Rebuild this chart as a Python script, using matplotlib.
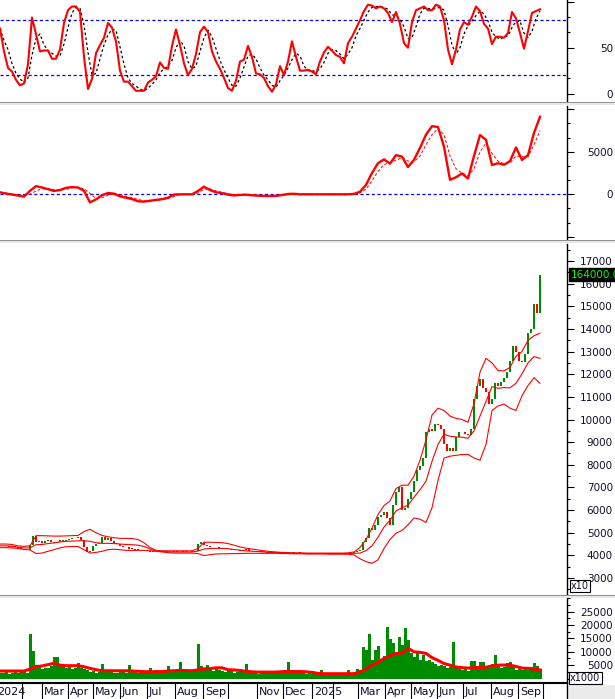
import numpy as np
import matplotlib
matplotlib.use('Agg')
import matplotlib.pyplot as plt
import matplotlib.transforms as mtransforms
from matplotlib.ticker import FixedLocator, MultipleLocator
from matplotlib.patches import Rectangle

plt.rcParams['font.family'] = ['DejaVu Sans']

# --- data ---
# candles / volume: one value every 3 px column
close = [4400, 4420, 4400, 4380, 4400, 4350, 4300, 4280, 4250, 4230,
         4450, 4850, 4600, 4650, 4550, 4620, 4680, 4600, 4550, 4600,
         4680, 4650, 4700, 4720, 4780, 4750, 4800, 4700, 4350, 4150,
         4200, 4400, 4500, 4550, 4800, 4700, 4780, 4650, 4520, 4500,
         4400, 4380, 4350, 4300, 4280, 4250, 4250, 4200, 4180, 4200,
         4150, 4180, 4200, 4150, 4180, 4200, 4180, 4200, 4150, 4180,
         4200, 4150, 4180, 4200, 4150, 4200, 4500, 4600, 4450, 4400,
         4380, 4350, 4380, 4300, 4320, 4280, 4300, 4250, 4220, 4250,
         4200, 4220, 4300, 4200, 4180, 4200, 4150, 4180, 4150, 4120,
         4150, 4130, 4150, 4100, 4130, 4150, 4120, 4100, 4130, 4150,
         4120, 4100, 4120, 4100, 4100, 4120, 4100, 4080, 4100, 4100,
         4080, 4100, 4080, 4100, 4100, 4080, 4100, 4120, 4150, 4200,
         4250, 4600, 4760, 5190, 5100, 5350, 5700, 5780, 5900, 5630,
         5340, 6220, 6800, 7030, 6000, 6100, 6510, 6800, 7300, 7750,
         7950, 8300, 9440, 9590, 9500, 9780, 9740, 9590, 8900, 8600,
         8750, 8630, 9220, 9440, 9440, 9350, 9300, 9600, 10900, 11500,
         11800, 11400, 11200, 10700, 10900, 11600, 11500, 11640, 11850, 12100,
         12600, 13260, 12970, 12600, 12530, 12900, 13800, 14000, 15100, 14700,
         16400]

volume = [2200, 2000, 2400, 1800, 2100, 2600, 1900, 2300, 2500, 2200,
          16700, 10300, 5000, 4200, 3500, 4000, 3800, 4500, 7900, 7900,
          5000, 4200, 3800, 4500, 3500, 3800, 5800, 4000, 3500, 3000,
          2500, 2800, 2200, 2600, 5600, 2400, 3000, 3200, 2200, 2000,
          2400, 2600, 2200, 5200, 2300, 2500, 2000, 2200, 2400, 2000,
          3900, 2600, 3000, 2200, 2400, 2800, 4800, 2500, 2900, 3500,
          6000, 2600, 2800, 2300, 3200, 2800, 12900, 4500, 3500, 5200,
          3000, 2800, 3900, 3200, 2700, 2300, 3500, 2800, 2200, 2600,
          3200, 2400, 5600, 2200, 2000, 2500, 1800, 2200, 2600, 2000,
          2100, 2800, 1900, 2300, 2100, 3200, 6000, 2500, 2100, 2200,
          2000, 2400, 1800, 2100, 1700, 1900, 2200, 3000, 1800, 1600,
          2000, 1500, 1800, 1700, 1600, 2000, 3200, 1800, 2400, 3600,
          3300, 11900, 10600, 16700, 7000, 10600, 12200, 7000, 8500, 19200,
          14700, 13400, 9000, 15600, 12500, 18800, 14300, 9400, 7900, 9400,
          7000, 8800, 6500, 7000, 6300, 5500, 4800, 5100, 4500, 3800,
          4200, 13600, 4400, 3600, 3000, 3400, 2800, 6700, 6700, 4500,
          6000, 6300, 4200, 3800, 5500, 8800, 4500, 3800, 4200, 5700,
          6300, 4800, 3300, 3600, 3000, 3500, 3200, 4200, 5700, 4800,
          3400]

# bollinger lines + volume average: one value every 6 px
bb_upper = [4500, 4500, 4480, 4420, 4400, 4420, 4870, 4870, 4860, 4850,
            4850, 4860, 4870, 4880, 5050, 5150, 5000, 4880, 4820, 4780,
            4750, 4750, 4740, 4700, 4560, 4350, 4220, 4200, 4200, 4200,
            4200, 4200, 4200, 4300, 4580, 4580, 4570, 4560, 4520, 4450,
            4370, 4320, 4280, 4240, 4200, 4170, 4150, 4130, 4120, 4110,
            4110, 4100, 4100, 4100, 4100, 4100, 4100, 4100, 4110, 4150,
            4350, 4700, 5200, 5800, 6200, 6400, 6950, 7100, 7100, 7500,
            8200, 9100, 10200, 10500, 10400, 10150, 10050, 10000, 9880, 10700,
            12090, 12700, 12500, 12160, 12150, 12300, 12800, 13000, 13500, 13700,
            13810]
bb_mid = [4420, 4420, 4400, 4360, 4330, 4330, 4470, 4480, 4520, 4550,
          4590, 4620, 4630, 4640, 4650, 4620, 4560, 4530, 4530, 4520,
          4500, 4480, 4470, 4450, 4390, 4280, 4200, 4180, 4160, 4150,
          4150, 4150, 4150, 4190, 4280, 4300, 4310, 4310, 4290, 4260,
          4230, 4200, 4180, 4170, 4150, 4130, 4120, 4110, 4100, 4090,
          4090, 4080, 4080, 4080, 4080, 4080, 4080, 4080, 4080, 4090,
          4100, 4210, 4420, 4800, 5250, 5550, 5960, 6100, 6220, 6570,
          6900, 7270, 8150, 8900, 9350, 9260, 9230, 9220, 9170, 9500,
          10150, 10800, 11450, 11380, 11410, 11400, 11600, 12020, 12500, 12780,
          12700]
bb_lower = [4340, 4340, 4330, 4300, 4260, 4240, 4080, 4100, 4180, 4250,
            4330, 4380, 4390, 4390, 4250, 4100, 4130, 4180, 4250, 4270,
            4250, 4220, 4220, 4220, 4220, 4200, 4180, 4150, 4120, 4100,
            4100, 4100, 4100, 4080, 3990, 4030, 4060, 4070, 4070, 4080,
            4080, 4090, 4090, 4090, 4090, 4090, 4090, 4080, 4080, 4070,
            4070, 4060, 4060, 4060, 4060, 4050, 4050, 4050, 4050, 4020,
            3850, 3720, 3650, 3800, 4300, 4700, 4980, 5100, 5350, 5650,
            5600, 5450, 6100, 7300, 8300, 8380, 8420, 8450, 8460, 8300,
            8200, 8900, 10400, 10600, 10680, 10500, 10400, 11050, 11500, 11850,
            11600]
vol_ma = [2800, 2800, 2800, 2800, 2800, 3500, 4400, 4700, 5200, 5700,
          5000, 4800, 4800, 4800, 4400, 3800, 3300, 2900, 2900, 2900,
          2900, 2900, 2800, 2700, 2550, 2550, 2550, 2600, 2800, 2900,
          3000, 3000, 2900, 3200, 3600, 3700, 4000, 4000, 3300, 3200,
          3000, 2700, 2500, 2400, 2400, 2400, 2400, 2550, 2600, 2600,
          2600, 2500, 2300, 1900, 1800, 1800, 1800, 1800, 1800, 1800,
          2400, 3500, 5000, 6000, 7500, 8500, 9400, 9500, 11300, 10000,
          9800, 9400, 7800, 6800, 5600, 5000, 4300, 4050, 3900, 4050,
          4100, 4200, 4700, 5000, 5050, 5000, 4500, 3900, 3800, 3500,
          3200]

# MACD and signal: one value every 6 px
macd = [235, 80, -30, -150, -270, 400, 960, 800, 600, 390,
        500, 760, 850, 800, 400, -950, -600, -100, 150, 80,
        -250, -400, -560, -820, -860, -760, -660, -570, -400, -30,
        0, 0, 0, 390, 900, 500, 235, 140, -40, -130,
        -80, -40, -120, -160, -190, -200, -180, -90, 40, 60,
        0, 0, 0, 0, 0, 0, 0, 0, 0, 50,
        300, 1100, 2500, 3650, 4100, 3600, 4600, 4420, 3200, 4050,
        5450, 7000, 8000, 7900, 5600, 1700, 2000, 2450, 1850, 4500,
        6950, 6400, 3440, 3650, 3460, 3900, 5500, 4030, 4600, 7200,
        9100]
signal = [235, 150, 60, -50, -150, 0, 400, 650, 700, 550,
          480, 600, 750, 800, 650, 100, -500, -400, -100, 50,
          -50, -250, -400, -600, -760, -800, -720, -630, -500, -250,
          -50, 0, 0, 150, 600, 650, 400, 230, 80, -60,
          -100, -70, -90, -130, -170, -190, -190, -140, -30, 40,
          30, 0, 0, 0, 0, 0, 0, 0, 0, 20,
          150, 600, 1600, 2700, 3500, 3700, 4000, 4300, 3900, 3800,
          4500, 5800, 7000, 7700, 7000, 4500, 3000, 2500, 2200, 3000,
          5000, 6000, 4800, 3900, 3600, 3700, 4500, 4400, 4400, 5800,
          7500]

# stochastic %K / %D: one value every 4 px
stoch_k = [71, 46, 28, 24, 15, 9, 11, 32, 83, 65,
           46, 47, 47, 38, 38, 48, 77, 91, 95, 95,
           89, 40, 5, 16, 44, 53, 61, 77, 72, 57,
           25, 13, 13, 8, 3, 3, 3, 12, 15, 19,
           34, 28, 27, 52, 70, 53, 33, 20, 27, 43,
           67, 73, 67, 46, 35, 27, 17, 6, 3, 14,
           35, 37, 52, 40, 22, 21, 17, 8, 2, 10,
           30, 20, 35, 57, 40, 25, 25, 26, 24, 21,
           35, 45, 51, 47, 42, 40, 33, 55, 62, 71,
           80, 90, 97, 96, 93, 95, 93, 88, 78, 89,
           76, 55, 50, 78, 91, 93, 95, 91, 91, 97,
           95, 80, 48, 32, 48, 70, 78, 75, 84, 95,
           90, 76, 71, 54, 62, 62, 61, 66, 89, 82,
           66, 49, 68, 88, 90, 92]
stoch_d = [71, 58, 48, 33, 22, 16, 12, 17, 42, 60,
           65, 53, 47, 44, 41, 41, 54, 72, 88, 94,
           93, 75, 45, 20, 22, 38, 53, 64, 70, 69,
           51, 32, 17, 11, 8, 5, 3, 6, 10, 15,
           23, 27, 30, 36, 50, 58, 52, 35, 27, 30,
           46, 61, 69, 62, 49, 36, 26, 17, 9, 8,
           17, 29, 41, 43, 38, 28, 20, 15, 9, 7,
           14, 20, 28, 37, 44, 41, 30, 25, 25, 24,
           27, 34, 44, 48, 47, 43, 38, 43, 50, 63,
           71, 80, 89, 94, 95, 95, 94, 92, 86, 85,
           81, 73, 60, 61, 73, 87, 93, 93, 92, 93,
           94, 91, 74, 53, 43, 50, 65, 74, 79, 85,
           90, 87, 79, 67, 62, 59, 62, 63, 72, 79,
           79, 66, 61, 68, 82, 90]

# month marks on the date strip (px) and their labels
month_pos = [-5, 22, 42, 68, 93, 120, 147, 175, 203, 228, 257, 283,
             312, 333, 358, 385, 411, 437, 463, 491, 518, 543]
month_lbl = ['2024', '', 'Mar', 'Apr', 'May', 'Jun', 'Jul', 'Aug', 'Sep', '',
             'Nov', 'Dec', '2025', '', 'Mar', 'Apr', 'May', 'Jun', 'Jul', 'Aug',
             'Sep', '']

W, H = 615, 699
PLOT_R = 567
RED = '#ff0000'
GREEN = '#008c00'
BLUE = '#0000ff'

fig = plt.figure(figsize=(W / 100, H / 100), dpi=100)


def panel(top, bottom):
    return fig.add_axes([0, 1 - bottom / H, PLOT_R / W, (bottom - top) / H])


def style(ax, ymin, ymax, major, labels, minor):
    ax.set_xlim(0, PLOT_R)
    ax.set_ylim(ymin, ymax)
    for s in ['top', 'left', 'bottom']:
        ax.spines[s].set_visible(False)
    ax.spines['right'].set_linewidth(1.0)
    ax.set_xticks([])
    ax.yaxis.tick_right()
    ax.yaxis.set_major_locator(FixedLocator(major))
    ax.yaxis.set_minor_locator(MultipleLocator(minor))
    ax.set_yticklabels(labels)
    ax.tick_params(axis='y', which='major', length=5, width=0.8, pad=28,
                   labelsize=7.5, labelcolor='#10102a')
    ax.tick_params(axis='y', which='minor', length=2.4, width=0.8)
    for t in ax.get_yticklabels():
        t.set_horizontalalignment('right')


# --- stochastic ---
ax1 = panel(0, 102)
xs = np.arange(len(stoch_k)) * 4
ax1.axhline(80, color=BLUE, lw=0.9, ls=(0, (2.5, 2)))
ax1.axhline(20, color=BLUE, lw=0.9, ls=(0, (2.5, 2)))
ax1.plot(xs, stoch_d, color='black', lw=0.9, ls=(0, (2, 2)))
ax1.plot(xs, stoch_k, color=RED, lw=1.5)
style(ax1, -9.2, 102.1, [0, 50, 100], ['0', '50', ''], 50 / 3)

# --- MACD ---
ax2 = panel(106, 240)
xm = np.arange(len(macd)) * 6
ax2.axhline(0, color=BLUE, lw=0.9, ls=(0, (2.5, 2)))
ax2.plot(xm, signal, color=RED, lw=0.7, ls=(0, (3, 2)))
ax2.plot(xm, macd, color=RED, lw=1.7)
style(ax2, -5365, 10366, [-5000, 0, 5000, 10000], ['', '0', '5000', ''], 5000 / 3)

# --- price with bollinger lines ---
ax3 = panel(244, 595)
xb = np.arange(len(bb_mid)) * 6
for band in (bb_upper, bb_mid, bb_lower):
    ax3.plot(xb, band, color=RED, lw=0.8)
xc = np.arange(len(close)) * 3
c = np.array(close, dtype=float)
o = np.concatenate([[c[0]], c[:-1]])
body = np.maximum(np.abs(c - o), 25)
cols = [GREEN if cc >= oo else RED for cc, oo in zip(c, o)]
ax3.bar(xc, body, bottom=np.minimum(o, c), width=2.0, color=cols, linewidth=0)
ticks = list(range(3000, 18000, 1000))
style(ax3, 2249, 17752, ticks, [str(t) for t in ticks], 500)

# --- volume ---
ax4 = panel(598, 683)
xv = np.arange(len(volume)) * 3
ax4.bar(xv, volume, width=3.0, color=GREEN, linewidth=0)
ax4.plot(np.arange(len(vol_ma)) * 6, vol_ma, color=RED, lw=2.2)
vt = [5000, 10000, 15000, 20000, 25000]
style(ax4, -1685, 30150, vt, [str(t) for t in vt], 2500)

# --- date strip ---
axl = fig.add_axes([0, 0, PLOT_R / W, 16 / H])
axl.set_xlim(0, PLOT_R)
axl.set_ylim(0, 1)
axl.set_xticks([])
axl.set_yticks([])
for s in ['left', 'bottom']:
    axl.spines[s].set_visible(False)
axl.spines['top'].set_linewidth(1.5)
axl.spines['right'].set_linewidth(1.0)
axl.vlines(month_pos, 0, 1, color='black', lw=0.8)
for p, lab in zip(month_pos, month_lbl):
    axl.text(p + 2, 0.45, lab, ha='left', va='center', fontsize=8,
             color='#10102a', clip_on=True)

# panel separators and corner boxes
for y0 in (102, 240, 595):
    fig.add_artist(Rectangle((0, 1 - (y0 + 3) / H), 1, 3 / H,
                             transform=fig.transFigure, color='#e8e8e8', lw=0))
    fig.add_artist(Rectangle((0, 1 - (y0 + 1.2) / H), 1, 1.2 / H,
                             transform=fig.transFigure, color='#909090', lw=0))
fig.add_artist(Rectangle((569 / W, 0), 46 / W, 14 / H,
                         transform=fig.transFigure, color='#ececec', lw=0))

tr = mtransforms.blended_transform_factory(fig.transFigure, ax3.transData)
ax3.text(571 / W, close[-1], '%.1f' % (close[-1] * 10), transform=tr,
         ha='left', va='center', fontsize=7.5, color='#00ff00', clip_on=False,
         bbox=dict(facecolor='black', edgecolor='black', pad=1.2))
fig.text(571 / W, 1 - 586 / H, 'x10', ha='left', va='center', fontsize=7,
         color='#10102a', bbox=dict(facecolor='white', edgecolor='black',
                                    pad=1.0, lw=0.8))
fig.text(570 / W, 1 - 678 / H, 'x1000', ha='left', va='center', fontsize=7,
         color='#10102a', bbox=dict(facecolor='white', edgecolor='black',
                                    pad=1.0, lw=0.8))

fig.savefig('out.png', dpi=100)
